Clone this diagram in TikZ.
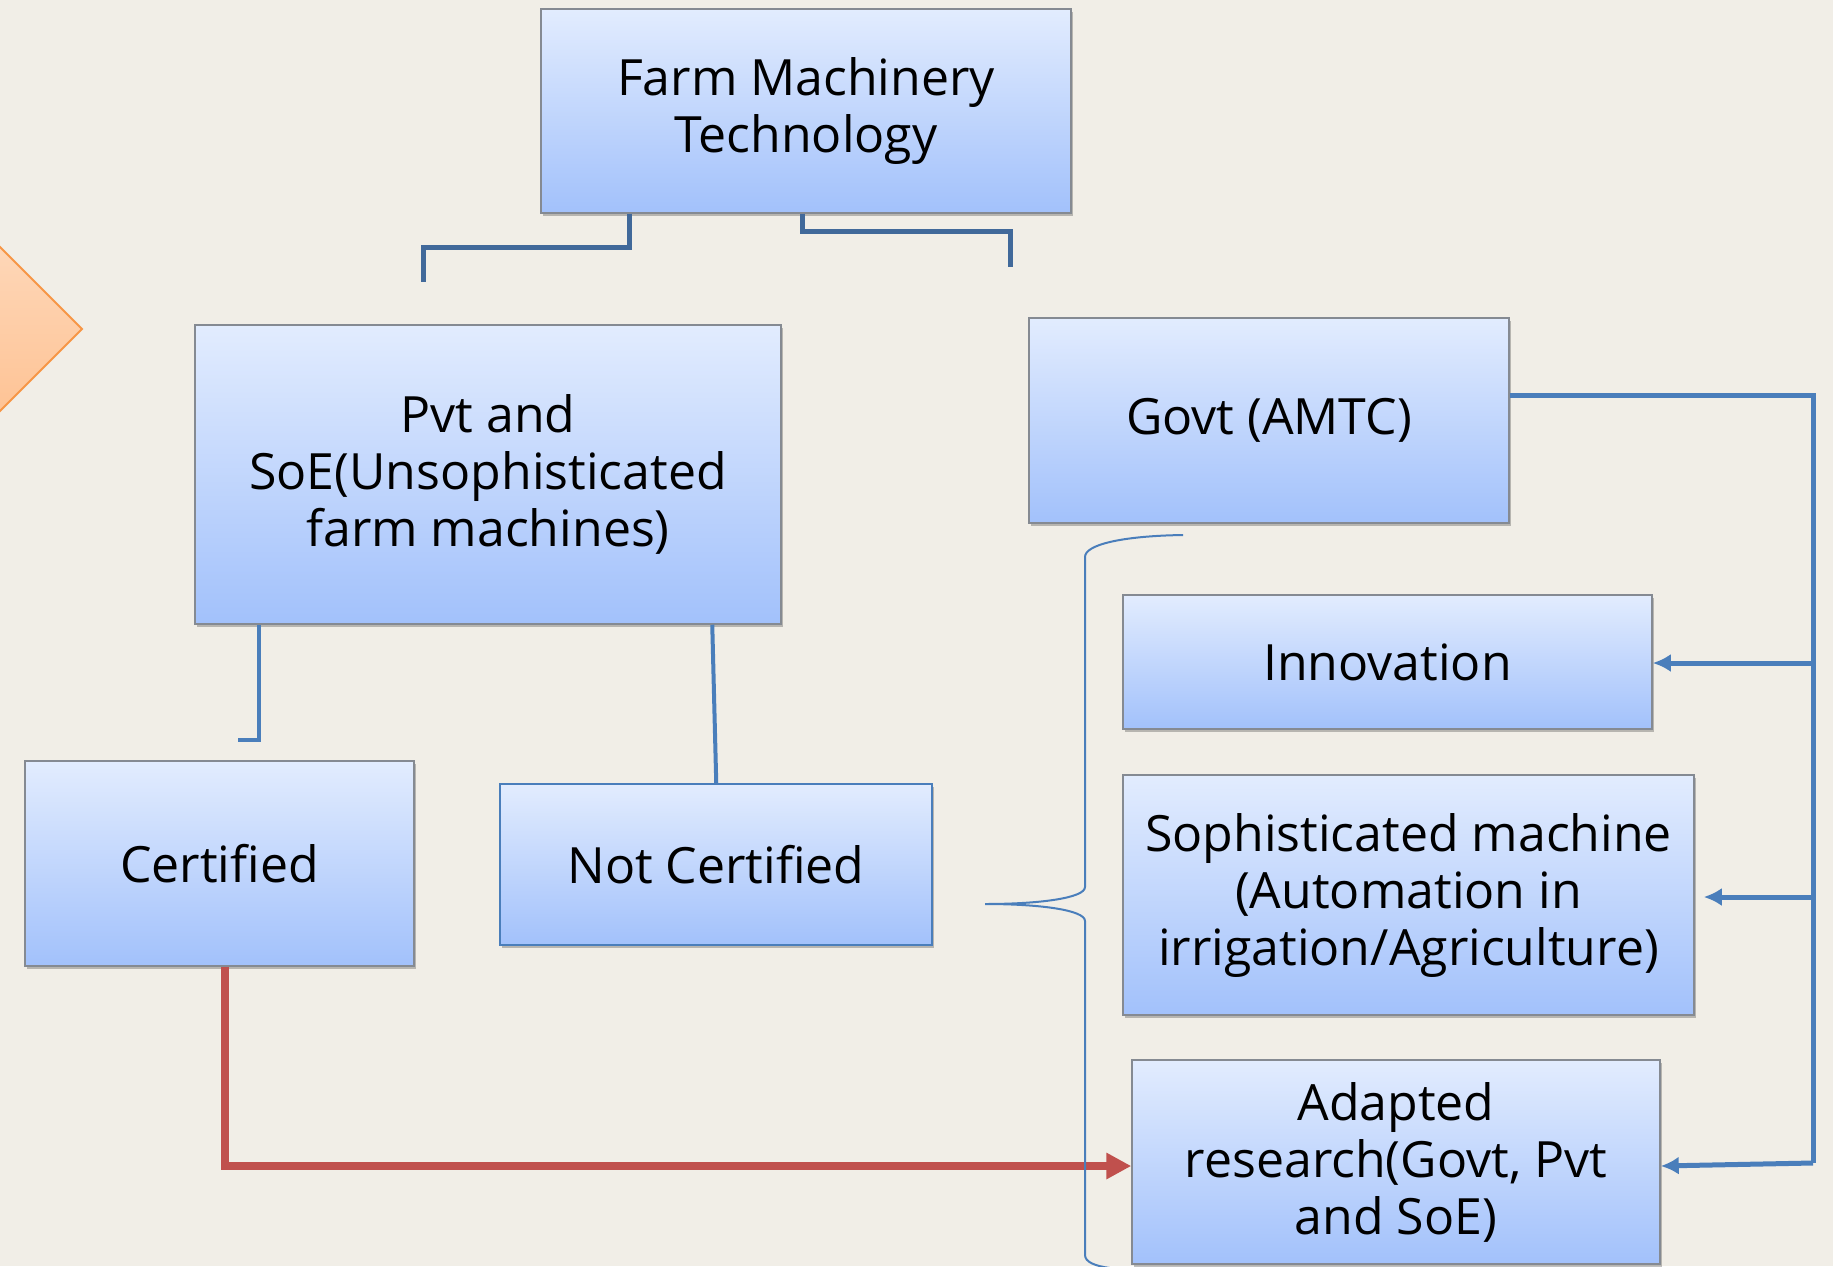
\documentclass[tikz,border=0pt]{standalone}
\usepackage{fontspec}
\setmainfont{Open Sans}
\usetikzlibrary{arrows.meta,shadows}
\definecolor{bg}{HTML}{F1EEE7}
\definecolor{boxtop}{HTML}{E2ECFE}
\definecolor{boxbot}{HTML}{A2C1FB}
\definecolor{boxline}{HTML}{858A92}
\definecolor{blueline}{HTML}{4A7EBB}
\definecolor{darkline}{HTML}{41699A}
\definecolor{redline}{HTML}{C0504D}
\definecolor{orangeline}{HTML}{F79646}
\definecolor{orangetop}{HTML}{FFE0C8}
\definecolor{orangebot}{HTML}{FDBA85}
\begin{document}
\begin{tikzpicture}[x=1pt,y=-1pt,
  box/.style={draw=boxline, line width=1.5pt, top color=boxtop, bottom color=boxbot,
    inner sep=0pt, align=center, font=\fontsize{50}{57}\selectfont,
    drop shadow={opacity=0.35, shadow xshift=2pt, shadow yshift=-3pt, fill=black!70}},
  topline/.style={draw=darkline, line width=5pt},
  midline/.style={draw=blueline, line width=4pt},
  govline/.style={draw=blueline, line width=5pt},
  govarrow/.style={draw=blueline, line width=5pt, -{Latex[length=18pt,width=18pt]}},
  redarrow/.style={draw=redline, line width=8pt, -{Triangle[length=25pt,width=25pt]}},
  bracestyle/.style={draw=blueline, line width=2pt}]
\useasboundingbox (0,0) rectangle (1833,1266);
\fill[bg] (0,0) rectangle (1833,1266);

% orange diamond at the left edge
\shade[top color=orangetop, bottom color=orangebot] (82,329) -- (-80,167) -- (-242,329) -- (-80,491) -- cycle;
\draw[orangeline, line width=2pt] (82,329) -- (-80,167) -- (-242,329) -- (-80,491) -- cycle;

% boxes
\node[box, minimum width=530pt, minimum height=204pt] (farm) at (806,111) {Farm Machinery\\Technology};
\node[box, minimum width=586pt, minimum height=299pt] (pvt) at (488,474.5) {Pvt and\\SoE(Unsophisticated\\farm machines)};
\node[box, minimum width=480pt, minimum height=205pt] (govt) at (1269,420.5) {Govt (AMTC)};
\node[box, minimum width=529pt, minimum height=134pt] (innov) at (1387.5,662) {Innovation};
\node[box, minimum width=571pt, minimum height=240pt] (soph) at (1408.5,895) {Sophisticated machine\\(Automation in\\irrigation/Agriculture)};
\node[box, minimum width=528pt, minimum height=204pt] (adapt) at (1396,1162) {Adapted\\research(Govt, Pvt\\and SoE)};
\node[box, minimum width=389pt, minimum height=205pt] (cert) at (219.5,863.5) {Certified};
\node[box, draw=blueline, minimum width=432pt, minimum height=161pt] (notc) at (716,864.5) {Not Certified};

% connectors from the top box
\coordinate (fl) at (423,282);
\coordinate (fr) at (1010,267);
\draw[topline] ([xshift=89pt]farm.south west) |- (423,247) -- (fl);
\draw[topline] ([xshift=262pt]farm.south west) |- (1010,231) -- (fr);

% connectors from Pvt
\coordinate (pl) at (238,740);
\draw[midline] ([xshift=65pt]pvt.south west) |- (pl);
\draw[midline] ([xshift=518pt]pvt.south west) -- ([xshift=217pt]notc.north west);

% Govt feedback lines
\coordinate (rb) at (1813,1163);
\coordinate (ri) at (1813,663);
\coordinate (rs) at (1813,897);
\draw[govline] ([yshift=25pt]govt.east) -| (rb);
\draw[govarrow] (ri) -- ([yshift=-1pt]innov.east);
\draw[govarrow] (rs) -- ([xshift=9pt,yshift=-2pt]soph.east);
\draw[govarrow] (rb) -- ([yshift=-4pt]adapt.east);

% red arrow
\draw[redarrow] ([xshift=201pt]cert.south west) |- ([yshift=-4pt]adapt.west);

% brace
\draw[bracestyle] (1183,535) .. controls (1120,536) and (1085,545) .. (1085,557)
  -- (1085,887) .. controls (1085,898) and (1040,904) .. (985,904)
  .. controls (1040,904) and (1085,910) .. (1085,921)
  -- (1085,1255) .. controls (1085,1262) and (1095,1266) .. (1110,1268);
\end{tikzpicture}
\end{document}
